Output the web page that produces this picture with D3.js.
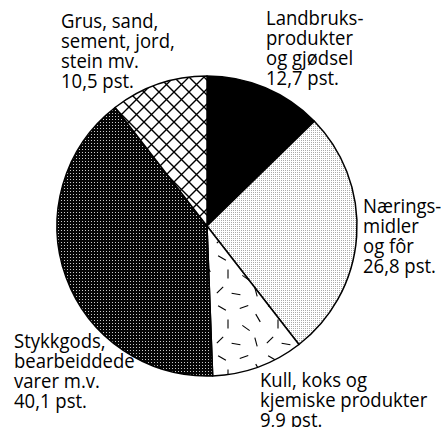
<!DOCTYPE html>
<html><head><meta charset="utf-8">
<script src="https://cdn.jsdelivr.net/npm/d3@7"></script>
<style>body{margin:0;background:#fff}</style>
</head><body>
<svg id="c" width="441" height="427"></svg>
<script>
// ---- data ----
const categories = ["Landbruksprodukter og gjødsel", "Næringsmidler og fôr", "Kull, koks og kjemiske produkter", "Stykkgods, bearbeiddede varer m.v.", "Grus, sand, sement, jord, stein mv."];
const values = [12.7, 26.8, 9.9, 40.1, 10.5];
const valueLabels = ["12,7 pst.", "26,8 pst.", "9,9 pst.", "40,1 pst.", "10,5 pst."];
const nameLines = [["Landbruks-", "produkter", "og gjødsel"], ["Nærings-", "midler", "og fôr"], ["Kull, koks og", "kjemiske produkter"], ["Stykkgods,", "bearbeiddede", "varer m.v."], ["Grus, sand,", "sement, jord,", "stein mv."]];

// ---- layout ----
const cx = 207, cy = 226, R = 150;
const labelAnchor = [[266, 25], [363, 213], [260, 387], [14, 348], [61, 28]];
const lineH = 20;
const sx = 0.95; // horizontal compression of label glyphs
const fills = ["#000", "url(#pLight)", "url(#pDash)", "url(#pDark)", "url(#pHatch)"];

const svg = d3.select("#c");
const defs = svg.append("defs");

// light dotted
const pl = defs.append("pattern").attr("id", "pLight").attr("patternUnits", "userSpaceOnUse").attr("width", 2).attr("height", 2);
pl.append("rect").attr("width", 2).attr("height", 2).attr("fill", "#fff");
pl.append("rect").attr("x", 0).attr("y", 0).attr("width", 1).attr("height", 1).attr("fill", "#aaa");

// dark dotted
const pd = defs.append("pattern").attr("id", "pDark").attr("patternUnits", "userSpaceOnUse").attr("width", 3).attr("height", 3);
pd.append("rect").attr("width", 3).attr("height", 3).attr("fill", "#050505");
pd.append("rect").attr("x", 1).attr("y", 1).attr("width", 1).attr("height", 1).attr("fill", "#ccc");

// crosshatch
const ph = defs.append("pattern").attr("id", "pHatch").attr("patternUnits", "userSpaceOnUse").attr("width", 15).attr("height", 15).attr("x", cx).attr("y", cy);
ph.append("rect").attr("width", 15).attr("height", 15).attr("fill", "#fff");
ph.append("path").attr("d", "M-1,-1L16,16M16,-1L-1,16").attr("stroke", "#000").attr("stroke-width", 1.4);

// dashes
const pdash = defs.append("pattern").attr("id", "pDash").attr("patternUnits", "userSpaceOnUse").attr("width", 50).attr("height", 50).attr("x", cx).attr("y", cy);
pdash.append("rect").attr("width", 50).attr("height", 50).attr("fill", "#fff");
const dashes = [[8,6,30],[30,5,-20],[44,16,60],[14,22,90],[32,26,35],[6,38,-45],[22,42,10],[42,40,75]];
pdash.selectAll("line").data(dashes).join("line")
  .attr("x1", d => d[0] - 4.5 * Math.cos(d[2] * Math.PI / 180))
  .attr("y1", d => d[1] - 4.5 * Math.sin(d[2] * Math.PI / 180))
  .attr("x2", d => d[0] + 4.5 * Math.cos(d[2] * Math.PI / 180))
  .attr("y2", d => d[1] + 4.5 * Math.sin(d[2] * Math.PI / 180))
  .attr("stroke", "#000").attr("stroke-width", 1.1);

const pie = d3.pie().sort(null).value(d => d);
const arc = d3.arc().innerRadius(0).outerRadius(R);
const g = svg.append("g").attr("transform", `translate(${cx},${cy})`);
g.selectAll("path").data(pie(values)).join("path")
  .attr("d", arc)
  .attr("fill", (d, i) => fills[i])
  .attr("stroke", "#000").attr("stroke-width", 1.5).attr("stroke-linejoin", "round");

const lab = svg.append("g").attr("font-family", "'Open Sans', sans-serif").attr("font-size", 19.5).attr("fill", "#000");
categories.forEach((c, i) => {
  const lines = nameLines[i].concat([valueLabels[i]]);
  const t = lab.append("text")
    .attr("transform", `translate(${labelAnchor[i][0]},${labelAnchor[i][1]}) scale(${sx},1)`);
  lines.forEach((l, k) => {
    t.append("tspan").attr("x", 0).attr("y", k * lineH).text(l);
  });
});
</script>
</body></html>
